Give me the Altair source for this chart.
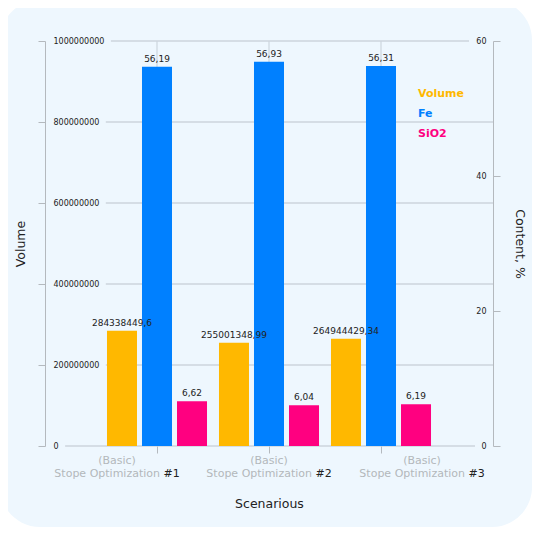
import altair as alt
import pandas as pd

# ---------------- data ----------------
scen_top = ["(Basic)", "(Basic)", "(Basic)"]
scen_main = ["Stope Optimization", "Stope Optimization", "Stope Optimization"]
scen_num = ["#1", "#2", "#3"]
volume = [284338449.6, 255001348.99, 264944429.34]
fe = [56.19, 56.93, 56.31]
sio2 = [6.62, 6.04, 6.19]
series = ["Volume", "Fe", "SiO2"]
colors = ["#FFB800", "#0080FF", "#FF0080"]
left_ticks = [0, 200000000, 400000000, 600000000, 800000000, 1000000000]
right_ticks = [0, 20, 40, 60]
LMAX, RMAX = 1000000000, 60

# ---------------- style ----------------
W, H = 448, 405
PAD = {"left": 37, "top": 33, "right": 39, "bottom": 81}
FONT = "DejaVu Sans"
BG = "#EEF7FE"
GRID = "#CDD5DD"
AXC = "#B4B9BE"
TXT = "#222222"
LBL_GRAY = "#B3B7BB"
XL_SHIFT = [-40, 0, 41]

scenarios = [f"{a} {b} {c}" for a, b, c in zip(scen_top, scen_main, scen_num)]


def fmt(v):
    return str(v).replace(".", ",")


vol_df = pd.DataFrame({"scenario": scenarios, "series": "Volume", "value": volume,
                       "label": [fmt(v) for v in volume]})
pct_df = pd.concat([
    pd.DataFrame({"scenario": scenarios, "series": "Fe", "value": fe, "label": [fmt(v) for v in fe]}),
    pd.DataFrame({"scenario": scenarios, "series": "SiO2", "value": sio2, "label": [fmt(v) for v in sio2]}),
])
grid_df = pd.DataFrame({"v": left_ticks})

xsc = alt.Scale(domain=scenarios, paddingInner=0, paddingOuter=0.5)
xosc = alt.Scale(domain=series, paddingInner=1 / 7, paddingOuter=0.171)
csc = alt.Scale(domain=series, range=colors)
lsc = alt.Scale(domain=[0, LMAX], nice=False)
rsc = alt.Scale(domain=[0, RMAX], nice=False)

xaxis = alt.Axis(title="Scenarious", labels=False, domain=False, grid=False, ticks=True,
                 tickSize=7, tickColor=AXC, titleFont=FONT, titleFontSize=12.5,
                 titleFontWeight="normal", titleColor=TXT, titlePadding=44, zindex=1)
laxis = alt.Axis(title="Volume", orient="left", values=left_ticks, format="d", grid=False,
                 domainColor=AXC, tickColor=AXC, tickSize=7, labelAlign="left",
                 labelPadding=-15, labelFlush=False, labelOverlap=False, labelFont=FONT,
                 labelFontSize=8, labelColor=TXT, titleFont=FONT, titleFontSize=12.5,
                 titleFontWeight="normal", titleColor=TXT, titlePadding=10, zindex=1)
raxis = alt.Axis(title="Content, %", orient="right", values=right_ticks, grid=False,
                 domainColor=AXC, tickColor=AXC, tickSize=7, labelAlign="right",
                 labelPadding=-14, labelFlush=False, labelOverlap=False, labelFont=FONT,
                 labelFontSize=8, labelColor=TXT, titleFont=FONT, titleFontSize=12.5,
                 titleFontWeight="normal", titleColor=TXT, titlePadding=12, zindex=1)
legend = alt.Legend(title=None, orient="none", legendX=362, legendY=47, symbolSize=0,
                    symbolStrokeWidth=0, labelOffset=0, labelFont=FONT, labelFontSize=11,
                    labelFontWeight="bold", rowPadding=8,
                    labelColor={"expr": "datum.label == 'Volume' ? '#FFB800' : datum.label == 'Fe' ? '#0080FF' : '#FF0080'"})

X = alt.X("scenario:N", scale=xsc, axis=xaxis, sort=scenarios)

# background card
bg = alt.Chart(pd.DataFrame({"k": [0]})).mark_rect(color=BG, cornerRadius=40).encode(
    x=alt.value(-45), x2=alt.value(W + PAD["right"]), y=alt.value(-41), y2=alt.value(H + PAD["bottom"]))

# horizontal gridlines at the Volume ticks (expressed on the % scale), stopping short of labels
hgrid = alt.Chart(grid_df).transform_calculate(
    yr=f"datum.v * {RMAX} / {LMAX}",
    gx="8 + length(toString(datum.v)) * 5.09 + 7",
    gx2=f"datum.v == 0 ? {W} - 18 : datum.v == {LMAX} ? {W} - 24 : {W}",
).mark_rule(color=GRID, strokeWidth=1.5).encode(
    x=alt.X("gx:Q", scale=None), x2="gx2:Q",
    y=alt.Y("yr:Q", scale=rsc, axis=raxis))

vgrid = alt.Chart(vol_df).mark_rule(color=GRID, strokeWidth=1.2).encode(
    x=X, y=alt.value(0), y2=alt.value(H))

pct_bars = alt.Chart(pct_df).mark_bar().encode(
    x=X, xOffset=alt.XOffset("series:N", scale=xosc),
    y=alt.Y("value:Q", scale=rsc, axis=raxis),
    color=alt.Color("series:N", scale=csc, legend=legend))
pct_text = alt.Chart(pct_df).mark_text(baseline="bottom", dy=-3, font=FONT, fontSize=9,
                                       color=TXT).encode(
    x=X, xOffset=alt.XOffset("series:N", scale=xosc),
    y=alt.Y("value:Q", scale=rsc, axis=raxis), text="label:N")

# x tick labels
xl_layers = []
for i, s in enumerate(scenarios):
    d = pd.DataFrame({"scenario": [s], "top": [scen_top[i]], "main": [scen_main[i]],
                      "num": [scen_num[i]]})
    base = alt.Chart(d)
    xl_layers.append(base.mark_text(align="center", baseline="middle", dx=XL_SHIFT[i],
                                    font=FONT, fontSize=11, color=LBL_GRAY).encode(
        x=X, y=alt.value(H + 15), text="top:N"))
    xl_layers.append(base.mark_text(align="right", baseline="middle", dx=XL_SHIFT[i] + 43,
                                    font=FONT, fontSize=11, color=LBL_GRAY).encode(
        x=X, y=alt.value(H + 28), text="main:N"))
    xl_layers.append(base.mark_text(align="left", baseline="middle", dx=XL_SHIFT[i] + 46.5,
                                    font=FONT, fontSize=11, color=TXT).encode(
        x=X, y=alt.value(H + 28), text="num:N"))

pct_group = alt.layer(bg, hgrid, vgrid, pct_bars, pct_text, *xl_layers)

vol_bars = alt.Chart(vol_df).mark_bar().encode(
    x=X, xOffset=alt.XOffset("series:N", scale=xosc),
    y=alt.Y("value:Q", scale=lsc, axis=laxis),
    color=alt.Color("series:N", scale=csc, legend=legend))
vol_text = alt.Chart(vol_df).mark_text(baseline="bottom", dy=-3, font=FONT, fontSize=9,
                                       color=TXT).encode(
    x=X, xOffset=alt.XOffset("series:N", scale=xosc),
    y=alt.Y("value:Q", scale=lsc, axis=laxis), text="label:N")
vol_group = alt.layer(vol_bars, vol_text)

chart = alt.layer(pct_group, vol_group).resolve_scale(y="independent").properties(
    width=W, height=H,
    autosize=alt.AutoSizeParams(type="none"),
    padding=PAD,
    background="white",
).configure_view(stroke="transparent")

chart.save("out.html", embed_options={"renderer": "svg", "actions": False})
